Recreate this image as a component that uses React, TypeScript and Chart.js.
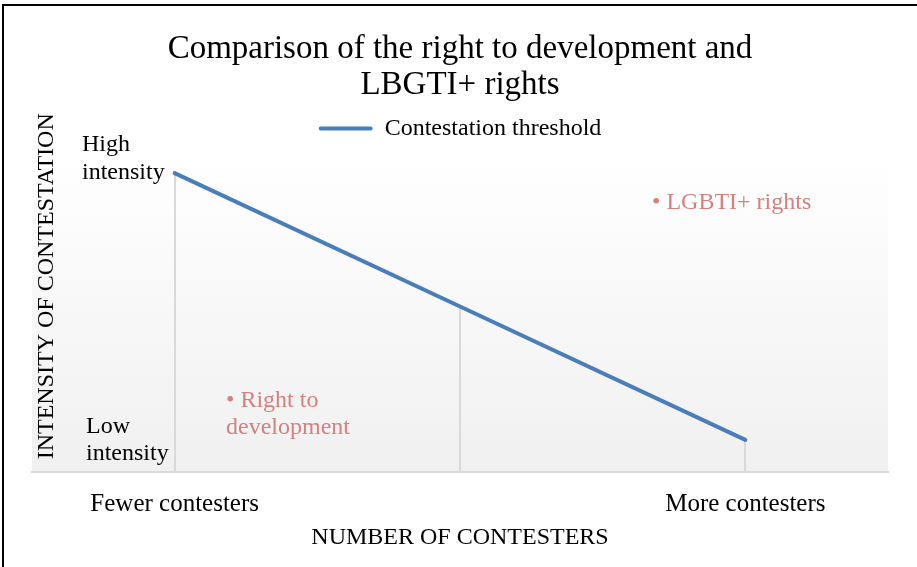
import React, { useEffect, useRef } from "react";
import { Chart, registerables } from "chart.js";

Chart.register(...registerables);

const categories: string[] = ["Fewer contesters", "", "More contesters"];
const thresholdValues: number[] = [9.3, 5.15, 1.0];
const seriesName = "Contestation threshold";
const chartTitle: string[] = ["Comparison of the right to development and", "LBGTI+ rights"];
const xAxisTitle = "NUMBER OF CONTESTERS";
const yAxisTitle = "INTENSITY OF CONTESTATION";
const highLabel: string[] = ["High", "intensity"];
const lowLabel: string[] = ["Low", "intensity"];
const lgbtiNote: string[] = ["\u2022 LGBTI+ rights"];
const developmentNote: string[] = ["\u2022 Right to", "development"];

const FONT = "'Liberation Serif', 'Times New Roman', serif";
const BLUE = "#4a7ebb";
const NOTE_COLOR = "#d4807f";

const decorPlugin = {
  id: "decor",
  beforeDraw(chart: any) {
    const { ctx, chartArea } = chart;
    ctx.save();
    const g = ctx.createLinearGradient(0, chartArea.top, 0, chartArea.bottom);
    g.addColorStop(0, "#ffffff");
    g.addColorStop(1, "#f0f0f0");
    ctx.fillStyle = g;
    ctx.fillRect(chartArea.left, chartArea.top, chartArea.right - chartArea.left, chartArea.bottom - chartArea.top);
    ctx.fillStyle = "#000000";
    ctx.fillRect(2, 4, 2, chart.height - 4);
    ctx.fillRect(2, 4, chart.width - 2, 2);
    ctx.restore();
  },
  beforeDatasetsDraw(chart: any) {
    const { ctx, chartArea } = chart;
    const meta = chart.getDatasetMeta(0);
    ctx.save();
    ctx.strokeStyle = "#d9d9d9";
    ctx.lineWidth = 2;
    meta.data.forEach((pt: any) => {
      ctx.beginPath();
      ctx.moveTo(Math.round(pt.x), pt.y);
      ctx.lineTo(Math.round(pt.x), chartArea.bottom);
      ctx.stroke();
    });
    ctx.restore();
  },
  afterDraw(chart: any) {
    const { ctx, chartArea } = chart;
    ctx.save();
    ctx.font = `24px ${FONT}`;
    ctx.fillStyle = "#000000";
    ctx.textAlign = "center";
    ctx.textBaseline = "middle";
    ctx.translate(chartArea.left + 15, (chartArea.top + chartArea.bottom) / 2 - 25);
    ctx.rotate(-Math.PI / 2);
    ctx.fillText(yAxisTitle, 0, 0);
    ctx.restore();

    const drawLines = (lines: string[], x: number, y: number, color: string, lh: number) => {
      ctx.save();
      ctx.font = `24px ${FONT}`;
      ctx.fillStyle = color;
      ctx.textAlign = "left";
      ctx.textBaseline = "middle";
      lines.forEach((t, i) => ctx.fillText(t, x, y + i * lh));
      ctx.restore();
    };
    drawLines(highLabel, chartArea.left + 50, chartArea.top - 6, "#000000", 28);
    drawLines(lowLabel, chartArea.left + 54, chartArea.bottom - 45, "#000000", 27);
    drawLines(lgbtiNote, 652, chartArea.top + 52, NOTE_COLOR, 27);
    drawLines(developmentNote, 226, chartArea.bottom - 71, NOTE_COLOR, 27);
  },
};

export default function App() {
  const ref = useRef<HTMLCanvasElement>(null);
  useEffect(() => {
    if (!ref.current) return;
    const chart = new Chart(ref.current, {
      type: "line",
      data: {
        labels: categories,
        datasets: [
          {
            label: seriesName,
            data: thresholdValues,
            borderColor: BLUE,
            backgroundColor: BLUE,
            borderWidth: 4,
            borderCapStyle: "round",
            pointRadius: 0,
            pointHoverRadius: 0,
            tension: 0,
          },
        ],
      },
      options: {
        responsive: false,
        animation: false,
        devicePixelRatio: 1,
        layout: { padding: { left: 32, right: 29, top: 0, bottom: 15 } },
        plugins: {
          title: {
            display: true,
            text: chartTitle,
            color: "#000000",
            font: { family: FONT, size: 33, weight: "normal", lineHeight: 1.1 },
            padding: { top: 31, bottom: 3 },
          },
          legend: {
            display: true,
            position: "top",
            labels: {
              color: "#000000",
              font: { family: FONT, size: 24 },
              boxWidth: 54,
              boxHeight: 4,
              padding: 10,
              generateLabels: (chart: any) =>
                Chart.defaults.plugins.legend.labels
                  .generateLabels(chart)
                  .map((l: any) => ({ ...l, lineWidth: 0, fillStyle: BLUE, borderRadius: 2 })),
            },
          },
          tooltip: { enabled: false },
        },
        scales: {
          x: {
            type: "category",
            offset: true,
            grid: { display: true, color: "rgba(0,0,0,0)", drawTicks: false },
            border: { display: true, color: "#d9d9d9", width: 2 },
            ticks: {
              color: "#000000",
              font: { family: FONT, size: 25 },
              padding: 17,
              maxRotation: 0,
              autoSkip: false,
            },
            title: {
              display: true,
              text: xAxisTitle,
              color: "#000000",
              font: { family: FONT, size: 24 },
              padding: { top: 0, bottom: 0 },
            },
            afterFit: (scale: any) => {
              scale.height = 80;
            },
          },
          y: {
            display: false,
            min: 0,
            max: 10,
          },
        },
      },
      plugins: [decorPlugin],
    });
    return () => chart.destroy();
  }, []);
  return (
    <div style={{ position: "fixed", left: 0, top: 0, width: 917, height: 567, background: "#ffffff" }}>
      <canvas ref={ref} width={917} height={567} style={{ display: "block" }} />
    </div>
  );
}
